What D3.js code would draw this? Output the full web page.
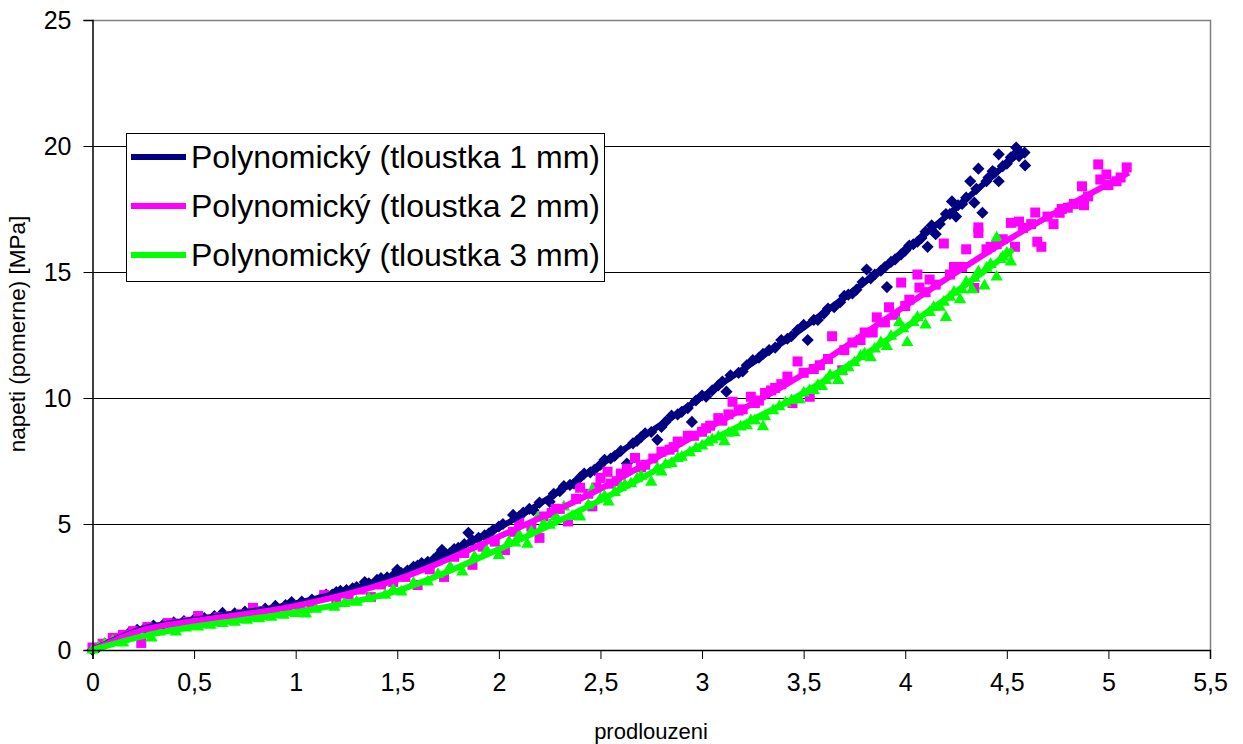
<!DOCTYPE html>
<html>
<head>
<meta charset="utf-8">
<script src="https://cdn.jsdelivr.net/npm/d3@7"></script>
<style>
  body { margin: 0; background: #fff; }
  svg { display: block; font-family: "Liberation Sans", Arial, sans-serif; }
</style>
</head>
<body>
<svg id="canvas"></svg>
<script>
// data
let xTicks = [0, 0.5, 1, 1.5, 2, 2.5, 3, 3.5, 4, 4.5, 5, 5.5];
let yTicks = [0, 5, 10, 15, 20, 25];
let seriesNames = ['Polynomický (tloustka 1 mm)', 'Polynomický (tloustka 2 mm)', 'Polynomický (tloustka 3 mm)'];
let seriesColors = ['#000080', '#ff00ff', '#00ff00'];

let points1 = [[0,0],[0.03,0.12],[0.06,0.25],[0.1,0.4],[0.14,0.55],[0.18,0.68],[0.22,0.8],[0.26,0.88],[0.3,0.97],[0.35,1.02],[0.4,1.1],[0.45,1.15],[0.5,1.22],[0.55,1.27],[0.6,1.35],[0.64,1.47],[0.7,1.46],[0.75,1.52],[0.8,1.58],[0.85,1.64],[0.9,1.75],[0.95,1.78],[0.98,1.9],[1.03,1.92],[1.08,2.0],[1.13,2.1],[1.15,2.2],[1.18,2.2],[1.2,2.3],[1.22,2.35],[1.25,2.38],[1.28,2.45],[1.3,2.5],[1.34,2.7],[1.36,2.65],[1.4,2.78],[1.42,2.85],[1.45,2.88],[1.48,2.95],[1.5,3.18],[1.52,3.05],[1.55,3.15],[1.58,3.3],[1.6,3.35],[1.62,3.45],[1.65,3.5],[1.68,3.6],[1.7,3.75],[1.72,3.97],[1.74,3.8],[1.76,3.85],[1.78,4.0],[1.8,4.05],[1.83,4.2],[1.85,4.65],[1.87,4.35],[1.9,4.45],[1.93,4.55],[1.95,4.62],[1.97,4.75],[2.0,4.9],[2.02,5.0],[2.07,5.36],[2.1,5.3],[2.12,5.45],[2.15,5.6],[2.17,5.55],[2.2,5.85],[2.25,5.88],[2.27,6.2],[2.3,6.3],[2.32,6.5],[2.35,6.55],[2.37,6.6],[2.4,6.85],[2.42,7.0],[2.45,7.05],[2.47,7.15],[2.5,7.35],[2.52,7.55],[2.55,7.6],[2.57,7.7],[2.6,7.9],[2.63,7.4],[2.66,8.2],[2.68,8.3],[2.7,8.45],[2.72,8.6],[2.75,8.65],[2.78,8.34],[2.8,8.85],[2.82,9.05],[2.85,9.3],[2.88,9.35],[2.9,9.45],[2.93,9.6],[2.95,9.05],[2.97,9.9],[3.0,10.1],[3.02,10.05],[3.05,10.3],[3.08,10.5],[3.1,10.65],[3.12,10.25],[3.14,10.9],[3.18,11.0],[3.2,11.05],[3.22,11.3],[3.25,11.5],[3.28,11.6],[3.3,11.75],[3.33,11.9],[3.36,12.0],[3.39,12.3],[3.42,12.35],[3.44,12.45],[3.47,12.7],[3.5,12.9],[3.52,12.3],[3.55,13.1],[3.57,13.1],[3.6,13.35],[3.62,13.55],[3.65,13.6],[3.68,13.8],[3.7,14.05],[3.72,14.1],[3.74,14.15],[3.76,14.3],[3.79,14.6],[3.81,15.1],[3.83,14.75],[3.85,14.9],[3.88,15.05],[3.9,15.2],[3.91,14.4],[3.93,15.4],[3.95,15.5],[3.98,15.7],[4.0,15.85],[4.02,16.05],[4.04,16.1],[4.06,16.2],[4.08,16.35],[4.1,16.6],[4.11,16.0],[4.13,16.85],[4.15,16.5],[4.17,16.9],[4.2,17.3],[4.22,17.3],[4.23,17.8],[4.25,17.2],[4.26,17.65],[4.28,17.7],[4.3,17.95],[4.32,18.6],[4.34,17.75],[4.35,18.3],[4.36,19.1],[4.38,17.35],[4.4,18.6],[4.41,18.75],[4.43,19.0],[4.44,18.95],[4.46,18.6],[4.46,19.67],[4.48,19.2],[4.5,19.3],[4.52,19.55],[4.546,19.94],[4.55,19.75],[4.56,19.6],[4.587,19.74],[4.59,19.23]];

let points2 = [[0,0.1],[0.05,0.25],[0.1,0.48],[0.15,0.6],[0.2,0.75],[0.24,0.28],[0.27,0.91],[0.3,0.85],[0.37,1.07],[0.42,1.05],[0.47,1.12],[0.52,1.35],[0.57,1.2],[0.62,1.3],[0.68,1.35],[0.73,1.42],[0.79,1.67],[0.84,1.55],[0.9,1.6],[0.96,1.68],[1.02,1.78],[1.08,1.85],[1.14,2.18],[1.2,2.05],[1.26,2.2],[1.32,2.4],[1.37,2.1],[1.42,2.6],[1.48,2.7],[1.54,2.9],[1.6,2.58],[1.66,3.2],[1.73,2.9],[1.78,3.7],[1.83,3.85],[1.87,3.38],[1.92,4.1],[1.98,4.3],[2.03,3.97],[2.07,4.69],[2.1,5.05],[2.16,4.9],[2.2,4.45],[2.22,5.3],[2.26,5.44],[2.28,5.6],[2.3,5.6],[2.34,5.1],[2.38,6.0],[2.4,6.44],[2.44,6.2],[2.46,5.7],[2.48,6.45],[2.5,6.83],[2.535,7.07],[2.55,6.6],[2.58,6.7],[2.6,7.0],[2.63,7.2],[2.67,7.62],[2.7,7.25],[2.72,7.35],[2.76,7.6],[2.8,7.87],[2.84,7.95],[2.86,8.05],[2.88,8.27],[2.93,8.5],[2.96,8.5],[3.0,8.66],[3.02,8.8],[3.04,8.9],[3.08,9.2],[3.1,9.1],[3.13,9.35],[3.15,9.85],[3.18,9.5],[3.2,9.55],[3.24,10.05],[3.26,9.8],[3.28,9.9],[3.31,10.2],[3.34,10.3],[3.36,10.4],[3.39,10.55],[3.42,10.85],[3.445,9.8],[3.47,11.45],[3.5,11.0],[3.53,10.05],[3.55,11.15],[3.58,11.3],[3.62,11.55],[3.64,12.45],[3.69,11.1],[3.7,11.9],[3.74,12.2],[3.78,12.3],[3.8,12.6],[3.84,12.6],[3.86,13.2],[3.9,13.0],[3.92,13.6],[3.95,13.3],[3.98,14.58],[4.0,13.65],[4.02,13.9],[4.06,14.9],[4.07,14.38],[4.1,14.2],[4.12,14.7],[4.15,14.5],[4.19,16.13],[4.22,14.9],[4.24,15.2],[4.28,15.2],[4.3,15.9],[4.34,14.37],[4.36,16.77],[4.36,16.55],[4.4,15.9],[4.42,16.0],[4.45,16.1],[4.48,16.3],[4.52,16.95],[4.54,16.0],[4.56,17.0],[4.58,16.75],[4.62,16.9],[4.64,17.36],[4.65,16.2],[4.67,16.0],[4.7,17.2],[4.73,16.9],[4.76,17.35],[4.77,17.5],[4.8,17.55],[4.83,17.7],[4.87,18.4],[4.88,17.65],[4.9,18.0],[4.95,19.27],[4.96,18.67],[4.99,18.87],[5.0,18.45],[5.04,18.6],[5.06,18.75],[5.09,19.15]];

let points3 = [[0,0],[0.03,0.1],[0.06,0.22],[0.1,0.35],[0.15,0.28],[0.18,0.5],[0.22,0.62],[0.29,0.48],[0.33,0.72],[0.38,0.8],[0.41,0.72],[0.46,0.88],[0.52,0.92],[0.58,0.98],[0.64,1.05],[0.7,1.1],[0.76,1.18],[0.82,1.24],[0.88,1.3],[0.94,1.38],[1.0,1.45],[1.05,1.43],[1.1,1.62],[1.19,1.7],[1.24,1.85],[1.3,1.9],[1.36,2.05],[1.44,2.18],[1.48,2.4],[1.52,2.3],[1.58,2.65],[1.65,2.7],[1.7,3.0],[1.76,3.3],[1.82,3.1],[1.88,3.7],[1.94,3.95],[2.0,3.75],[2.05,4.3],[2.08,4.25],[2.1,4.55],[2.14,4.2],[2.16,4.7],[2.19,5.24],[2.22,5.0],[2.25,4.95],[2.28,5.3],[2.32,5.68],[2.36,5.3],[2.4,5.28],[2.44,5.75],[2.46,6.36],[2.5,6.0],[2.52,6.1],[2.54,5.88],[2.57,6.25],[2.6,6.45],[2.62,6.55],[2.65,6.6],[2.68,6.8],[2.7,6.9],[2.75,6.66],[2.78,7.2],[2.8,7.07],[2.82,7.35],[2.85,7.4],[2.88,7.6],[2.9,7.65],[2.94,7.83],[2.97,8.0],[3.0,8.1],[3.03,8.25],[3.05,8.35],[3.08,8.45],[3.11,8.27],[3.13,8.6],[3.16,8.62],[3.19,8.85],[3.22,8.9],[3.24,9.1],[3.26,9.1],[3.3,8.86],[3.31,9.26],[3.35,9.5],[3.38,9.66],[3.41,9.8],[3.44,9.9],[3.48,9.93],[3.5,10.2],[3.53,10.3],[3.55,10.3],[3.57,10.5],[3.59,10.46],[3.61,10.7],[3.63,10.9],[3.67,10.7],[3.69,11.05],[3.72,11.2],[3.75,11.4],[3.78,11.65],[3.8,11.75],[3.83,11.6],[3.85,11.95],[3.88,12.2],[3.91,12.05],[3.93,12.45],[3.97,13.0],[3.99,12.75],[4.01,12.2],[4.04,13.0],[4.06,13.2],[4.1,12.9],[4.12,13.4],[4.14,13.6],[4.17,13.6],[4.19,13.8],[4.2,13.2],[4.22,14.0],[4.24,14.2],[4.27,13.9],[4.28,14.3],[4.3,14.6],[4.33,14.3],[4.34,14.75],[4.36,15.0],[4.39,14.45],[4.4,15.15],[4.42,15.3],[4.45,14.8],[4.45,16.35],[4.47,15.5],[4.48,15.6],[4.5,15.75],[4.52,15.4]];

// polynomial trendlines, read at steps along each curve
let trendX1 = [0, 0.25, 0.5, 1, 1.5, 2, 2.5, 3, 3.5, 4, 4.5, 4.58];
let trendY1 = [0, 0.85, 1.2, 1.85, 3.0, 4.85, 7.35, 10.05, 12.8, 15.85, 19.3, 19.85];
let trendX2 = [0, 0.25, 0.5, 1, 1.5, 2, 2.5, 3, 3.5, 4, 4.5, 5, 5.1];
let trendY2 = [0, 0.8, 1.15, 1.75, 2.8, 4.5, 6.4, 8.67, 10.95, 13.65, 16.25, 18.5, 18.94];
let trendX3 = [0, 0.25, 0.5, 1, 1.5, 2, 2.5, 3, 3.5, 4, 4.5, 4.53];
let trendY3 = [0, 0.55, 0.93, 1.5, 2.35, 4.0, 5.95, 8.14, 10.2, 12.8, 15.7, 15.9];

let width = 1243;
let height = 744;
let plotLeft = 92.5;
let plotRight = 1210;
let plotTop = 20;
let plotBottom = 650;

let canvas = d3.select('#canvas')
canvas.attr('width', width)
canvas.attr('height', height)

let xScale = d3.scaleLinear().domain([0, 5.5]).range([plotLeft, plotRight])
let yScale = d3.scaleLinear().domain([0, 25]).range([plotBottom, plotTop])

let commaFormat = (d) => String(d).replace('.', ',')

let drawFrame = () => {
    // horizontal gridlines
    canvas.append('g')
    .attr('transform', 'translate(' + plotLeft + ',0)')
    .call(d3.axisLeft(yScale).tickValues([5, 10, 15, 20]).tickSize(-(plotRight - plotLeft)).tickFormat(''))
    .call(g => g.select('.domain').remove())
    .selectAll('line').attr('stroke', '#000').attr('stroke-width', 1)

    // grey top and right border
    canvas.append('path')
    .attr('d', 'M' + plotLeft + ',' + (plotTop + 0.5) + 'H' + (plotRight + 0.5) + 'V' + plotBottom)
    .attr('fill', 'none')
    .attr('stroke', '#808080')
    .attr('stroke-width', 1.5)
}

let drawAxis = () => {
    let xAxis = d3.axisBottom(xScale).tickValues(xTicks).tickSize(9).tickPadding(14).tickFormat(commaFormat)
    let gx = canvas.append('g')
    .attr('transform', 'translate(0,' + plotBottom + ')')
    .call(xAxis)
    gx.select('.domain').attr('stroke', '#000').attr('stroke-width', 1.5)
    gx.selectAll('text').attr('font-size', 25).attr('fill', '#000').attr('font-family', '"Liberation Sans", Arial, sans-serif')

    let yAxis = d3.axisLeft(yScale).tickValues(yTicks).tickSize(9).tickPadding(12)
    let gy = canvas.append('g')
    .attr('transform', 'translate(' + plotLeft + ',0)')
    .call(yAxis)
    gy.select('.domain').attr('stroke', '#000').attr('stroke-width', 1.5)
    gy.selectAll('text').attr('font-size', 25).attr('fill', '#000').attr('font-family', '"Liberation Sans", Arial, sans-serif')

    canvas.append('text')
    .attr('x', 651)
    .attr('y', 739)
    .attr('text-anchor', 'middle')
    .attr('font-size', 22)
    .text('prodlouzeni')

    canvas.append('text')
    .attr('transform', 'translate(25,334) rotate(-90)')
    .attr('text-anchor', 'middle')
    .attr('font-size', 22.5)
    .text('napeti (pomerne) [MPa]')
}

let drawPoints = () => {
    let sets = [
        {data: points1, color: seriesColors[0], symbol: d3.symbol(d3.symbolSquare, 74), rotate: 45},
        {data: points2, color: seriesColors[1], symbol: d3.symbol(d3.symbolSquare, 100), rotate: 0},
        {data: points3, color: seriesColors[2], symbol: d3.symbol(d3.symbolTriangle, 66), rotate: 0}
    ]
    sets.forEach((s) => {
        canvas.append('g')
        .selectAll('path')
        .data(s.data)
        .enter()
        .append('path')
        .attr('d', s.symbol)
        .attr('fill', s.color)
        .attr('transform', (d) => 'translate(' + xScale(d[0]) + ',' + yScale(d[1]) + ') rotate(' + s.rotate + ')')
    })
}

let drawTrends = () => {
    let line = d3.line()
    .x((d) => xScale(d[0]))
    .y((d) => yScale(d[1]))
    .curve(d3.curveCatmullRom.alpha(0.5))

    let trends = [d3.zip(trendX1, trendY1), d3.zip(trendX2, trendY2), d3.zip(trendX3, trendY3)]
    trends.forEach((t, i) => {
        canvas.append('path')
        .datum(t)
        .attr('d', line)
        .attr('fill', 'none')
        .attr('stroke', seriesColors[i])
        .attr('stroke-width', 6)
        .attr('stroke-linecap', 'butt')
    })
}

let drawLegend = () => {
    let g = canvas.append('g')
    g.append('rect')
    .attr('x', 126.5)
    .attr('y', 133.5)
    .attr('width', 478)
    .attr('height', 148)
    .attr('fill', '#fff')
    .attr('stroke', '#000')
    .attr('stroke-width', 1)

    let rows = g.selectAll('.row')
    .data(seriesNames)
    .enter()
    .append('g')
    .attr('transform', (d, i) => 'translate(0,' + (157 + i * 49) + ')')

    rows.append('line')
    .attr('x1', 131).attr('x2', 186)
    .attr('stroke', (d, i) => seriesColors[i])
    .attr('stroke-width', 6)

    rows.append('text')
    .attr('x', 191)
    .attr('y', 11)
    .attr('font-size', 32)
    .text((d) => d)
}

drawFrame();
drawPoints();
drawTrends();
drawAxis();
drawLegend();
</script>
</body>
</html>
